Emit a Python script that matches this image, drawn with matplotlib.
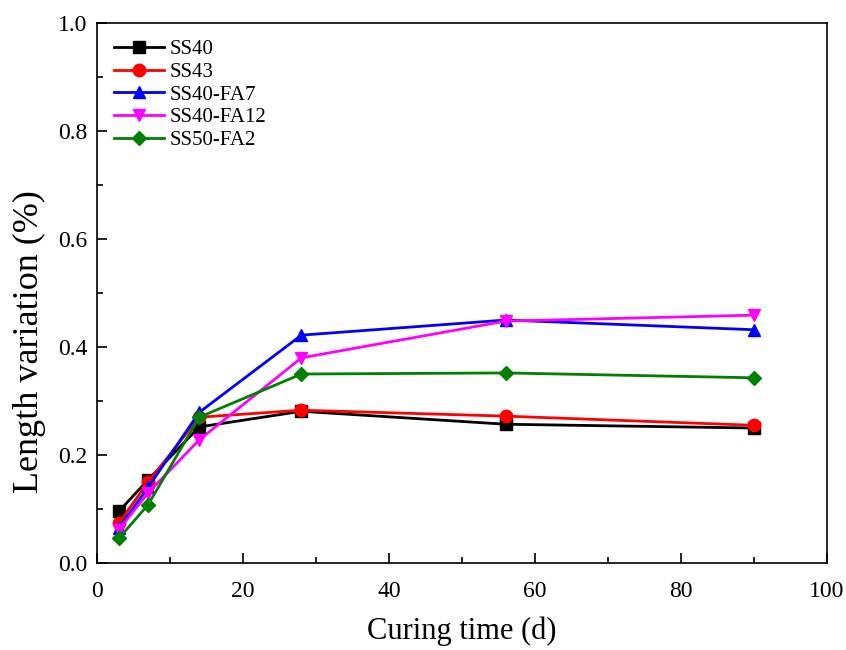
import matplotlib
matplotlib.use("Agg")
import matplotlib.pyplot as plt
from matplotlib.ticker import MultipleLocator

plt.rcParams['font.family'] = ['Liberation Serif', 'DejaVu Serif']

days = [3, 7, 14, 28, 56, 90]
ss40 = [0.096, 0.154, 0.252, 0.281, 0.257, 0.250]
ss43 = [0.074, 0.150, 0.270, 0.283, 0.272, 0.255]
ss40_fa7 = [0.065, 0.140, 0.279, 0.422, 0.450, 0.432]
ss40_fa12 = [0.062, 0.130, 0.228, 0.380, 0.448, 0.459]
ss50_fa2 = [0.046, 0.108, 0.270, 0.350, 0.352, 0.343]

series = [
    ("SS40", ss40, "black", "s"),
    ("SS43", ss43, "red", "o"),
    ("SS40-FA7", ss40_fa7, "blue", "^"),
    ("SS40-FA12", ss40_fa12, "magenta", "v"),
    ("SS50-FA2", ss50_fa2, "green", "D"),
]

fig = plt.figure(figsize=(8.46, 6.5), dpi=100)
ax = fig.add_axes([0.1147, 0.1338, 0.8628, 0.8308])
for name, vals, c, m in series:
    ax.plot(days, vals, color=c, marker=m, markersize=9 if m != "D" else 7.5,
            linewidth=2.0, label=name)

ax.set_xlim(0, 100)
ax.set_ylim(0, 1.0)
ax.xaxis.set_major_locator(MultipleLocator(20))
ax.xaxis.set_minor_locator(MultipleLocator(10))
ax.yaxis.set_major_locator(MultipleLocator(0.2))
ax.yaxis.set_minor_locator(MultipleLocator(0.1))
ax.yaxis.set_major_formatter(plt.FormatStrFormatter('%.1f'))
ax.tick_params(which='major', direction='in', length=7, width=1.2, labelsize=17)
ax.tick_params(which='minor', direction='in', length=4, width=1.2)
ax.tick_params(axis='x', pad=13)
ax.tick_params(axis='y', pad=7)
for s in ax.spines.values():
    s.set_linewidth(1.2)

ax.set_xlabel("Curing time (d)", fontsize=22, labelpad=10.5)
ax.set_ylabel("Length variation (%)", fontsize=26)
ax.yaxis.set_label_coords(-0.070, 0.411)
ax.legend(loc='upper left', frameon=False, fontsize=15, handlelength=2.4,
          labelspacing=0.15, borderaxespad=0.4, handletextpad=0.3)

fig.savefig("out.png", dpi=100)
